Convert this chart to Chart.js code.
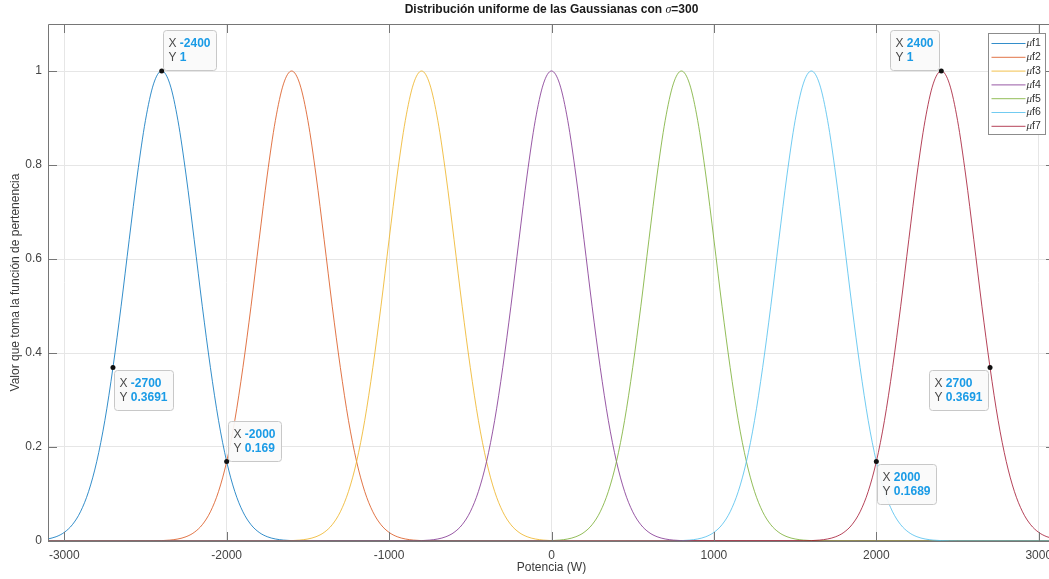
<!DOCTYPE html>
<html>
<head>
<meta charset="utf-8">
<script src="https://cdn.jsdelivr.net/npm/chart.js@4.4.1/dist/chart.umd.min.js"></script>
<style>
  html, body { margin: 0; padding: 0; background: #fff; overflow: hidden; width: 1049px; height: 579px; }
  canvas { display: block; }
</style>
</head>
<body>
<canvas id="chart" width="1070" height="579"></canvas>
<script>
// Membership functions: seven Gaussians, all with the same shape, spread over the power axis
const seriesNames = ['f1', 'f2', 'f3', 'f4', 'f5', 'f6', 'f7'];
const centers = [-2400, -1600, -800, 0, 800, 1600, 2400];

// Shape of one Gaussian: offset from its centre (W) and membership value
const offsets = [-900, -850, -800, -750, -700, -650, -600, -550, -500, -450, -400, -350, -300, -250, -200, -150, -100, -50,
                 0, 50, 100, 150, 200, 250, 300, 350, 400, 450, 500, 550, 600, 650, 700, 750, 800, 850, 900];
const profile = [0.0001, 0.0003, 0.0008, 0.0019, 0.0043, 0.0091, 0.0183, 0.0347, 0.0622, 0.1054, 0.1689, 0.2564, 0.3691, 0.4994, 0.6412, 0.7788, 0.8948, 0.9726,
                 1, 0.9726, 0.8948, 0.7788, 0.6412, 0.4994, 0.3691, 0.2564, 0.169, 0.1054, 0.0622, 0.0347, 0.0183, 0.0091, 0.0043, 0.0019, 0.0008, 0.0003, 0.0001];

// Axis limits and tick labels
const xLimits = [-3100, 3100];
const yLimits = [0, 1.1];
const xTicks = [-3000, -2000, -1000, 0, 1000, 2000, 3000];
const yTicks = [0, 0.2, 0.4, 0.6, 0.8, 1];

// Data tips pinned on the first and last curves
const tipX = [-2400, -2700, -2000, 2400, 2700, 2000];
const tipY = [1, 0.3691, 0.169, 1, 0.3691, 0.1689];

// ---- styling ----
const colors = ['rgba(0,114,189,0.8)', 'rgba(217,83,25,0.8)', 'rgba(237,177,32,0.8)', 'rgba(126,47,142,0.8)',
                'rgba(119,172,48,0.8)', 'rgba(77,190,238,0.8)', 'rgba(162,20,47,0.8)'];
const tipPlacement = ['ur', 'dr', 'ur', 'ul', 'dl', 'dr'];
const SANS = '"Liberation Sans", Arial, Helvetica, sans-serif';
const SERIF = '"Liberation Serif", "Times New Roman", serif';

function buildSeries(c) {
  const pts = [];
  if (c + offsets[0] > xLimits[0]) pts.push({ x: xLimits[0], y: 0 });
  offsets.forEach((d, i) => {
    const x = c + d;
    if (x >= xLimits[0] && x <= xLimits[1]) pts.push({ x: x, y: profile[i] });
  });
  if (c + offsets[offsets.length - 1] < xLimits[1]) pts.push({ x: xLimits[1], y: 0 });
  return pts;
}

const decorations = {
  id: 'decorations',
  afterDatasetsDraw(chart) {
    const ctx = chart.ctx;
    const a = chart.chartArea;
    const xs = chart.scales.x, ys = chart.scales.y;
    ctx.save();

    // axes box with inward ticks
    ctx.strokeStyle = '#767676';
    ctx.lineWidth = 1;
    ctx.beginPath();
    ctx.rect(Math.round(a.left) + 0.5, Math.round(a.top) + 0.5, Math.round(a.right - a.left), Math.round(a.bottom - a.top));
    const tl = 9;
    xTicks.forEach(v => {
      const px = Math.round(xs.getPixelForValue(v)) + 0.5;
      ctx.moveTo(px, a.bottom); ctx.lineTo(px, a.bottom - tl);
      ctx.moveTo(px, a.top); ctx.lineTo(px, a.top + tl);
    });
    yTicks.forEach(v => {
      const py = Math.round(ys.getPixelForValue(v)) + 0.5;
      ctx.moveTo(a.left, py); ctx.lineTo(a.left + tl, py);
      ctx.moveTo(a.right, py); ctx.lineTo(a.right - tl, py);
    });
    ctx.stroke();

    // legend
    const lw = 57, lh = 101;
    const lx = Math.round(a.right - 10 - lw) + 0.5, ly = Math.round(a.top + 9) + 0.5;
    ctx.fillStyle = '#ffffff';
    ctx.fillRect(lx, ly, lw, lh);
    ctx.strokeStyle = '#8c8c8c';
    ctx.strokeRect(lx, ly, lw, lh);
    seriesNames.forEach((name, i) => {
      const cy = ly + 10 + i * 13.8;
      ctx.strokeStyle = colors[i];
      ctx.beginPath();
      ctx.moveTo(lx + 3, cy); ctx.lineTo(lx + 37, cy);
      ctx.stroke();
      ctx.textBaseline = 'middle';
      ctx.textAlign = 'left';
      ctx.fillStyle = '#333';
      ctx.font = 'italic 11px ' + SERIF;
      ctx.fillText('\u03BC', lx + 38, cy);
      const mw = ctx.measureText('\u03BC').width;
      ctx.font = '10.5px ' + SANS;
      ctx.fillText(name, lx + 38 + mw, cy);
    });

    // data tips
    tipX.forEach((xv, i) => {
      const px = xs.getPixelForValue(xv);
      const py = ys.getPixelForValue(tipY[i]);
      const l1a = 'X ', l1b = String(xv), l2a = 'Y ', l2b = String(tipY[i]);
      ctx.font = '12px ' + SANS;
      const wa1 = ctx.measureText(l1a).width, wa2 = ctx.measureText(l2a).width;
      ctx.font = 'bold 12px ' + SANS;
      const wb1 = ctx.measureText(l1b).width, wb2 = ctx.measureText(l2b).width;
      const bw = Math.round(Math.max(wa1 + wb1, wa2 + wb2) + 11);
      const bh = 40;
      const pl = tipPlacement[i];
      let bx = pl[1] === 'r' ? px + 1 : px - 2 - bw;
      let by = pl[0] === 'u' ? py - 1 - bh : py + 2;
      bx = Math.round(bx) + 0.5; by = Math.round(by) + 0.5;
      ctx.fillStyle = 'rgba(250,250,250,0.92)';
      ctx.strokeStyle = '#c8c8c8';
      ctx.beginPath();
      ctx.roundRect(bx, by, bw, bh, 3);
      ctx.fill();
      ctx.stroke();
      ctx.textBaseline = 'middle';
      ctx.textAlign = 'left';
      [[l1a, l1b, wa1, 13], [l2a, l2b, wa2, 27]].forEach(r => {
        ctx.font = '12px ' + SANS;
        ctx.fillStyle = '#4a4a4a';
        ctx.fillText(r[0], bx + 5, by + r[3]);
        ctx.font = 'bold 12px ' + SANS;
        ctx.fillStyle = '#1a9be6';
        ctx.fillText(r[1], bx + 5 + r[2], by + r[3]);
      });
      ctx.fillStyle = '#111';
      ctx.beginPath();
      ctx.arc(px, py, 2.5, 0, Math.PI * 2);
      ctx.fill();
    });

    ctx.restore();
  },
  afterDraw(chart) {
    const ctx = chart.ctx;
    const a = chart.chartArea;
    ctx.save();
    ctx.textBaseline = 'middle';
    // title with italic sigma
    const t1 = 'Distribuci\u00F3n uniforme de las Gaussianas con ', t2 = '\u03C3', t3 = '=300';
    ctx.font = 'bold 12px ' + SANS;
    const w1 = ctx.measureText(t1).width, w3 = ctx.measureText(t3).width;
    ctx.font = 'italic 12px ' + SERIF;
    const w2 = ctx.measureText(t2).width;
    let tx = (a.left + a.right) / 2 - (w1 + w2 + w3) / 2;
    ctx.fillStyle = '#1a1a1a';
    ctx.textAlign = 'left';
    ctx.font = 'bold 12px ' + SANS;
    ctx.fillText(t1, tx, 10);
    ctx.font = 'italic 12px ' + SERIF;
    ctx.fillText(t2, tx + w1, 10);
    ctx.font = 'bold 12px ' + SANS;
    ctx.fillText(t3, tx + w1 + w2, 10);

    // axis titles
    ctx.font = '12px ' + SANS;
    ctx.fillStyle = '#3a3a3a';
    ctx.textAlign = 'center';
    ctx.fillText('Potencia (W)', (a.left + a.right) / 2, 568);
    ctx.translate(16, (a.top + a.bottom) / 2);
    ctx.rotate(-Math.PI / 2);
    ctx.fillText('Valor que toma la funci\u00F3n de pertenencia', 0, 0);
    ctx.restore();
  }
};

new Chart(document.getElementById('chart'), {
  type: 'line',
  data: {
    datasets: centers.map((c, i) => ({
      label: '\u03BC' + seriesNames[i],
      data: buildSeries(c),
      borderColor: colors[i],
      borderWidth: 1,
      pointRadius: 0,
      fill: false,
      cubicInterpolationMode: 'monotone',
      order: centers.length - 1 - i
    }))
  },
  options: {
    responsive: false,
    animation: false,
    devicePixelRatio: 1,
    layout: { padding: { top: 24, right: 15, left: 0, bottom: 0 } },
    plugins: { legend: { display: false }, tooltip: { enabled: false }, title: { display: false } },
    scales: {
      x: {
        type: 'linear',
        min: xLimits[0], max: xLimits[1],
        afterBuildTicks(s) { s.ticks = xTicks.map(v => ({ value: v })); },
        afterFit(s) { s.height = 38; },
        grid: { color: '#e6e6e6', drawTicks: false },
        border: { display: false },
        ticks: { padding: 7, color: '#444', autoSkip: false, maxRotation: 0, font: { family: SANS, size: 12 }, callback: v => String(v) }
      },
      y: {
        type: 'linear',
        min: yLimits[0], max: yLimits[1],
        afterBuildTicks(s) { s.ticks = yTicks.map(v => ({ value: v })); },
        afterFit(s) { s.width = 48; },
        grid: { color: '#e6e6e6', drawTicks: false },
        border: { display: false },
        ticks: { padding: 6, color: '#444', font: { family: SANS, size: 12 }, callback: v => String(v) }
      }
    }
  },
  plugins: [decorations]
});
</script>
</body>
</html>
